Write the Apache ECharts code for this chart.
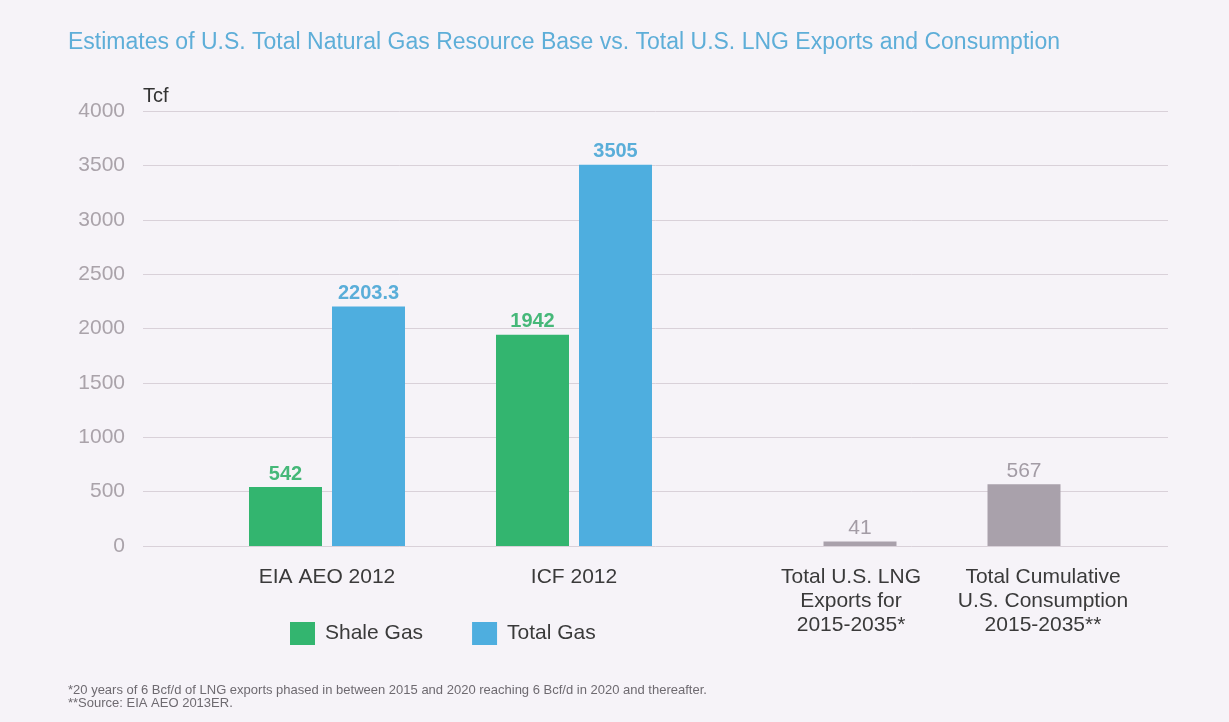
<!DOCTYPE html>
<html>
<head>
<meta charset="utf-8">
<script src="https://cdn.jsdelivr.net/npm/echarts@6/dist/echarts.min.js"></script>
<style>
  html, body { margin: 0; padding: 0; background: #f6f3f8; }
  #chart { width: 1229px; height: 722px; }
</style>
</head>
<body>
<div id="chart"></div>
<script>
// resource estimates (Tcf)
const sources = ['EIA AEO 2012', 'ICF 2012'];
const shaleGas = [542, 1942];
const totalGas = [2203.3, 3505];

// exports / consumption (Tcf)
const usageCats = ['Total U.S. LNG\nExports for\n2015-2035*', 'Total Cumulative\nU.S. Consumption\n2015-2035**'];
const usageVals = [41, 567];

const yTicks = { min: 0, max: 4000, interval: 500 };

const FONT = '"Liberation Sans", Arial, sans-serif';
const GREEN = '#33b56f';
const BLUE = '#4eaedf';
const GREY = '#a9a1ab';
const GRID_LINE = '#d9d1d9';

const chart = echarts.init(document.getElementById('chart'));

// shared vertical box for all three grids
const gridTop = 111, gridBottom = 722 - 546;

// the right-hand labels sit a little off their bar centres in the original
const usageLabelPad = [[0, 18, 0, 0], [0, 0, 0, 38]];

const hiddenY = idx => ({
  type: 'value', gridIndex: idx, min: yTicks.min, max: yTicks.max, interval: yTicks.interval,
  show: false, splitLine: { show: false }
});

const catX = (idx, data) => ({
  type: 'category', gridIndex: idx, data,
  axisLine: { show: false }, axisTick: { show: false },
  axisLabel: { color: '#3a3a3a', fontSize: 21, fontFamily: FONT, margin: 19, lineHeight: 24, interval: 0 }
});

chart.setOption({
  backgroundColor: '#f6f3f8',
  textStyle: { fontFamily: FONT },
  title: [
    {
      text: 'Estimates of U.S. Total Natural Gas Resource Base vs. Total U.S. LNG Exports and Consumption',
      left: 63, top: 26,
      textStyle: { color: '#5eaed8', fontSize: 23, fontWeight: 'normal', fontFamily: FONT }
    },
    {
      text: '*20 years of 6 Bcf/d of LNG exports phased in between 2015 and 2020 reaching 6 Bcf/d in 2020 and thereafter.\n**Source: EIA AEO 2013ER.',
      left: 63, top: 679,
      textStyle: { color: '#6e6a70', fontSize: 13, fontWeight: 'normal', lineHeight: 13, fontFamily: FONT }
    }
  ],
  legend: {
    data: ['Shale Gas', 'Total Gas'],
    left: 285, top: 617,
    itemWidth: 25, itemHeight: 23, itemGap: 49,
    icon: 'rect',
    textStyle: { color: '#3a3a3a', fontSize: 21, fontFamily: FONT, padding: [0, 0, 0, 5] }
  },
  grid: [
    { left: 143, right: 61, top: gridTop, bottom: gridBottom },
    { left: 203.5, right: 1229 - 697.5, top: gridTop, bottom: gridBottom },
    { left: 778, right: 1229 - 1106, top: gridTop, bottom: gridBottom }
  ],
  xAxis: [
    { type: 'category', gridIndex: 0, data: [''], show: false },
    catX(1, sources),
    catX(2, usageCats.map((c, i) => ({ value: c, textStyle: { padding: usageLabelPad[i] } })))
  ],
  yAxis: [
    {
      type: 'value', gridIndex: 0, min: yTicks.min, max: yTicks.max, interval: yTicks.interval,
      name: 'Tcf', nameLocation: 'end', nameGap: 5,
      nameTextStyle: { color: '#333', fontSize: 20, align: 'left', fontFamily: FONT },
      axisLine: { show: false }, axisTick: { show: false },
      axisLabel: { color: '#aaa3aa', fontSize: 21, margin: 18, fontFamily: FONT, formatter: v => String(v) },
      splitLine: { lineStyle: { color: GRID_LINE, width: 1 } }
    },
    hiddenY(1),
    hiddenY(2)
  ],
  series: [
    {
      name: 'Shale Gas', type: 'bar', xAxisIndex: 1, yAxisIndex: 1,
      data: shaleGas, barWidth: 73, barGap: '13.7%',
      itemStyle: { color: GREEN },
      label: { show: true, position: 'top', distance: 3, color: '#46b879', fontSize: 20, fontWeight: 'bold' }
    },
    {
      name: 'Total Gas', type: 'bar', xAxisIndex: 1, yAxisIndex: 1,
      data: totalGas, barWidth: 73, barGap: '13.7%',
      itemStyle: { color: BLUE },
      label: { show: true, position: 'top', distance: 3, color: '#5aaed9', fontSize: 20, fontWeight: 'bold' }
    },
    {
      name: 'Usage', type: 'bar', xAxisIndex: 2, yAxisIndex: 2,
      data: usageVals, barWidth: 73,
      itemStyle: { color: GREY },
      label: { show: true, position: 'top', distance: 3, color: '#a39ca5', fontSize: 21 }
    }
  ]
});
</script>
</body>
</html>
